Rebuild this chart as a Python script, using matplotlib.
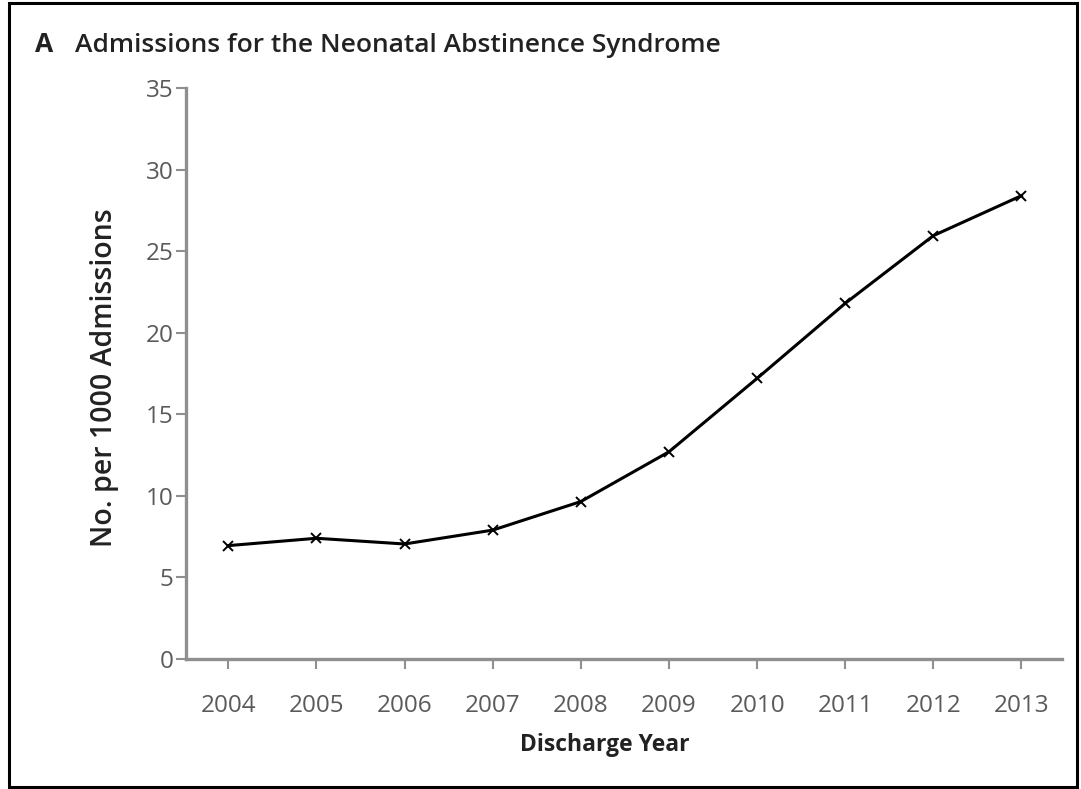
import matplotlib.pyplot as plt
from matplotlib.patches import Rectangle

years = [2004, 2005, 2006, 2007, 2008, 2009, 2010, 2011, 2012, 2013]
rate = [6.95, 7.4, 7.05, 7.9, 9.65, 12.7, 17.2, 21.8, 25.95, 28.4]
yticks = [0, 5, 10, 15, 20, 25, 30, 35]

plt.rcParams['font.family'] = ['Open Sans', 'DejaVu Sans']

W, H = 1081, 789
fig = plt.figure(figsize=(W / 100, H / 100), dpi=100)
ax = fig.add_axes([186 / W, 1 - 659 / H, (1062 - 186) / W, (659 - 88) / H])

ax.plot(years, rate, color='black', lw=2.2, marker='x', ms=7, mew=1.4, zorder=3)

ax.set_xlim(2003.52, 2013.46)
ax.set_ylim(0, 35)
ax.set_xticks(years)
ax.set_yticks(yticks)

spine_col = '#8f8f8f'
for s in ['top', 'right']:
    ax.spines[s].set_visible(False)
for s in ['left', 'bottom']:
    ax.spines[s].set_color(spine_col)
    ax.spines[s].set_linewidth(2.4)
ax.tick_params(axis='both', colors=spine_col, length=7, width=1.5,
               labelcolor='#5a5a5a', labelsize=17.5)
ax.tick_params(axis='x', pad=18)
ax.tick_params(axis='y', pad=2)

ax.set_xlabel('Discharge Year', fontsize=16.5, fontweight='bold', color='#222222')
ax.xaxis.set_label_coords((605 - 186) / 876, (659 - 745) / 571)
ax.xaxis.label.set_va('center')
ax.set_ylabel('No. per 1000 Admissions', fontsize=20.5, fontweight='semibold', color='#222222')
ax.yaxis.set_label_coords((105 - 186) / 876, (659 - 378) / 571)
ax.yaxis.label.set_va('center')

fig.text(35 / W, 1 - 45 / H, 'A', fontsize=19, fontweight='bold', color='#222222', va='center')
fig.text(75 / W, 1 - 45 / H, 'Admissions for the Neonatal Abstinence Syndrome', fontsize=19,
         fontweight='semibold', color='#222222', va='center')

fig.patches.append(Rectangle((9 / W, 2 / H), (1077 - 9) / W, (786 - 2) / H, transform=fig.transFigure,
                             fill=False, edgecolor='black', lw=2.2))

fig.savefig('out.png', dpi=100)
